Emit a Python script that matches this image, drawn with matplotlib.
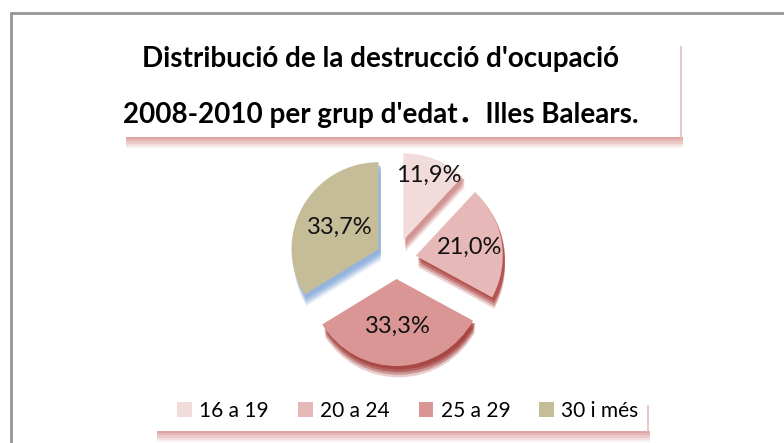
import matplotlib
matplotlib.use("Agg")
import matplotlib.pyplot as plt
from matplotlib.patches import Rectangle
import numpy as np

# Dades del gràfic
grups = ["16 a 19", "20 a 24", "25 a 29", "30 i més"]
percentatges = [11.9, 21.0, 33.3, 33.7]
etiquetes = ["11,9%", "21,0%", "33,3%", "33,7%"]
titol_linia1 = "Distribució de la destrucció d'ocupació"
titol_linia2 = "2008-2010 per grup d'edat\uFF0EIlles Balears."

# Estil
colors = ["#F2DCDB", "#E6B9B8", "#D99694", "#C4BD97"]
colors_ombra = ["#D08E8C", "#B04A47", "#A33C39", "#8FB0DC"]
dist_etiqueta = [0.80, 0.63, 0.54, 0.51]
font = ["Lato", "DejaVu Sans"]

W, H = 784, 443
fig = plt.figure(figsize=(W / 100, H / 100), dpi=100)


def fx(x):
    return x / W


def fy(y):
    return 1 - y / H


def rect(x0, y0, x1, y1, **kw):
    fig.add_artist(Rectangle((fx(x0), fy(y1)), fx(x1) - fx(x0), fy(y0) - fy(y1),
                             transform=fig.transFigure, **kw))


# Marc gris exterior
rect(11, 13, W + 5, H + 5, facecolor="none", edgecolor="#969696", lw=2)

# Caixa del títol amb ombra
for i, a in enumerate([0.85, 0.7, 0.5, 0.3, 0.12]):
    rect(126, 137 + i * 2.2, 683, 139.2 + i * 2.2, facecolor="#D99694", edgecolor="none", alpha=a)
rect(680, 46, 682, 140, facecolor="#E6B9B8", edgecolor="none", alpha=0.8)

# Caixa de la llegenda amb ombra
for i, a in enumerate([0.85, 0.7, 0.5, 0.3, 0.12]):
    rect(157, 431 + i * 2.2, 650, 433.2 + i * 2.2, facecolor="#D99694", edgecolor="none", alpha=a)
rect(647, 405, 649, 433, facecolor="#E6B9B8", edgecolor="none", alpha=0.8)

# Títol
fig.text(fx(381), fy(67), titol_linia1, ha="center", va="baseline",
         fontsize=20, fontweight="bold", family=font)
fig.text(fx(381), fy(123), titol_linia2, ha="center", va="baseline",
         fontsize=20, fontweight="bold", family=["Lato", "Noto Sans CJK SC", "DejaVu Sans"])

# Pastís
r_px = 87
cx, cy = 396, 259
ax = fig.add_axes([fx(cx - 2 * r_px), fy(cy + 2 * r_px), 4 * r_px / W, 4 * r_px / H])
ax.set_xlim(-2, 2)
ax.set_ylim(-2, 2)
ax.axis("off")

explode = [0.23] * len(percentatges)

# Ombra / gruix 3D
for off, a in [(0.13, 0.25), (0.10, 0.4), (0.07, 0.55), (0.04, 0.7)]:
    ax.pie(percentatges, colors=colors_ombra, startangle=90, counterclock=False,
           explode=explode, center=(0.025, -off),
           wedgeprops=dict(linewidth=0, alpha=a))

wedges, _ = ax.pie(percentatges, colors=colors, startangle=90, counterclock=False,
                   explode=explode, wedgeprops=dict(linewidth=0))
ax.set_xlim(-2, 2)
ax.set_ylim(-2, 2)
ax.set_aspect("equal")

for w, txt, d in zip(wedges, etiquetes, dist_etiqueta):
    ang = np.radians((w.theta1 + w.theta2) / 2)
    x0, y0 = w.center
    ax.text(x0 + d * np.cos(ang), y0 + d * np.sin(ang), txt, ha="center", va="center",
            fontsize=17, family=font, color="#111111")

# Llegenda
fig.legend(wedges, grups, loc="center", bbox_to_anchor=(fx(408), fy(411)),
           ncol=4, frameon=False, handlelength=0.7, handleheight=0.7,
           handletextpad=0.35, columnspacing=1.4,
           prop={"family": font, "size": 15})

fig.savefig("out.png", dpi=100)
